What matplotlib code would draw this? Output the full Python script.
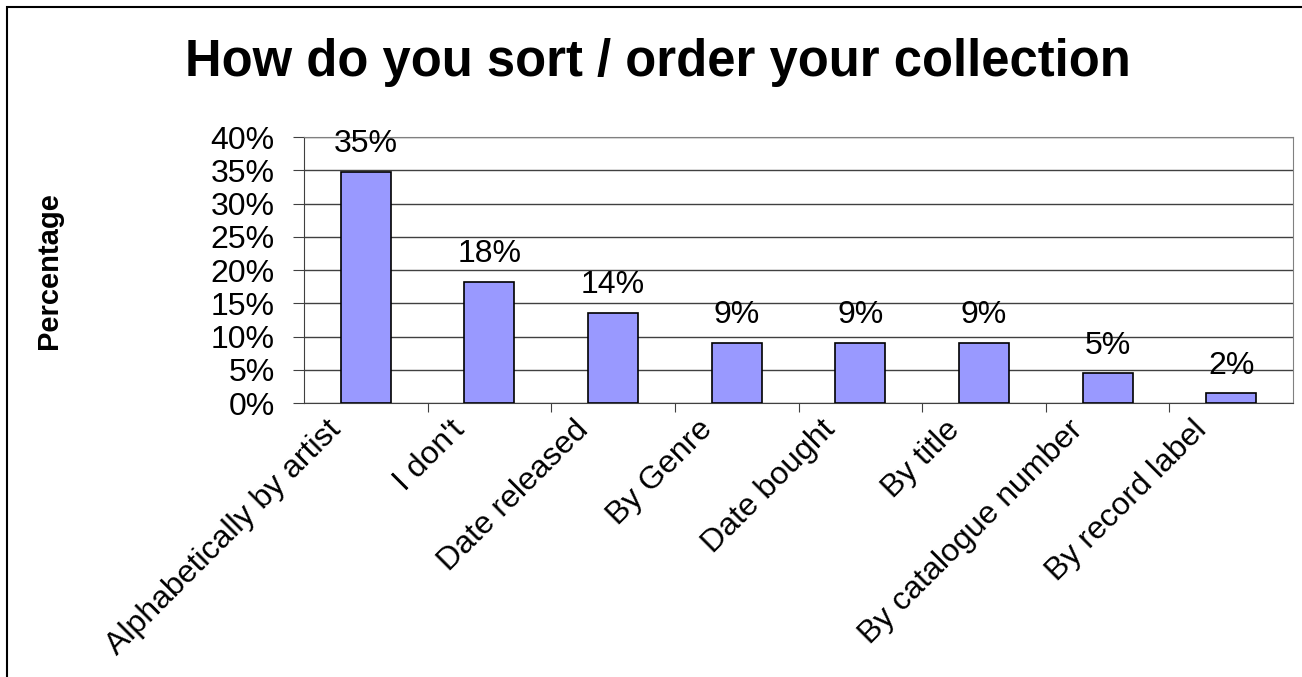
import matplotlib.pyplot as plt
from matplotlib.patches import Rectangle

plt.rcParams['font.family'] = ['Liberation Sans', 'DejaVu Sans']

# Survey data
categories = ['Alphabetically by artist', "I don't", 'Date released', 'By Genre',
              'Date bought', 'By title', 'By catalogue number', 'By record label']
values     = [34.8, 18.2, 13.6, 9.1, 9.1, 9.1, 4.5, 1.5]
labels     = ['35%', '18%', '14%', '9%', '9%', '9%', '5%', '2%']
yticks     = [0, 5, 10, 15, 20, 25, 30, 35, 40]

fig = plt.figure(figsize=(13.02, 6.77), dpi=100)
ax = fig.add_axes([0.2335, 0.4047, 0.7596, 0.3929])

x = range(len(categories))
ax.bar(x, values, width=0.405, color='#9999FF', edgecolor='black', linewidth=1.2,
       zorder=3)

# value labels above the bars
for xi, v, lab in zip(x, values, labels):
    ax.annotate(lab, (xi, v), xytext=(0, 9), textcoords='offset points',
                ha='center', va='bottom', fontsize=23)

# category labels, rotated, ending just left of / below the bar centre
for xi, cat in zip(x, categories):
    ax.annotate(cat, (xi, 0), xycoords=('data', 'axes fraction'),
                xytext=(-21, -16), textcoords='offset points',
                rotation=45, rotation_mode='anchor', ha='right', va='center',
                fontsize=23, annotation_clip=False)

ax.set_xlim(-0.5, len(categories) - 0.5)
ax.set_ylim(0, 40)
ax.set_yticks(yticks)
ax.set_yticklabels([f'{t}%' for t in yticks], fontsize=23)
ax.yaxis.grid(True, color='#404040', linewidth=1)
ax.set_axisbelow(True)

# ticks between categories
ax.set_xticks([i + 0.5 for i in range(len(categories) - 1)])
ax.set_xticklabels([])
ax.tick_params(axis='x', length=6.5, color='#404040')
ax.tick_params(axis='y', length=8, color='#404040', pad=13)

for s in ['top', 'right']:
    ax.spines[s].set_color('#808080')
for s in ['left', 'bottom']:
    ax.spines[s].set_color('#404040')

fig.text(0.505, 0.908, 'How do you sort / order your collection',
         ha='center', va='center', fontsize=36.5, fontweight='bold')
fig.text(0.038, 0.600, 'Percentage', rotation=90, ha='center', va='center',
         fontsize=21, fontweight='bold')

# chart border
fig.patches.append(Rectangle((7 / 1302, -0.1), 1.2, 1 - 7 / 677 + 0.1,
                             transform=fig.transFigure, fill=False,
                             edgecolor='black', linewidth=1.5))

fig.savefig('out.png', dpi=100)
